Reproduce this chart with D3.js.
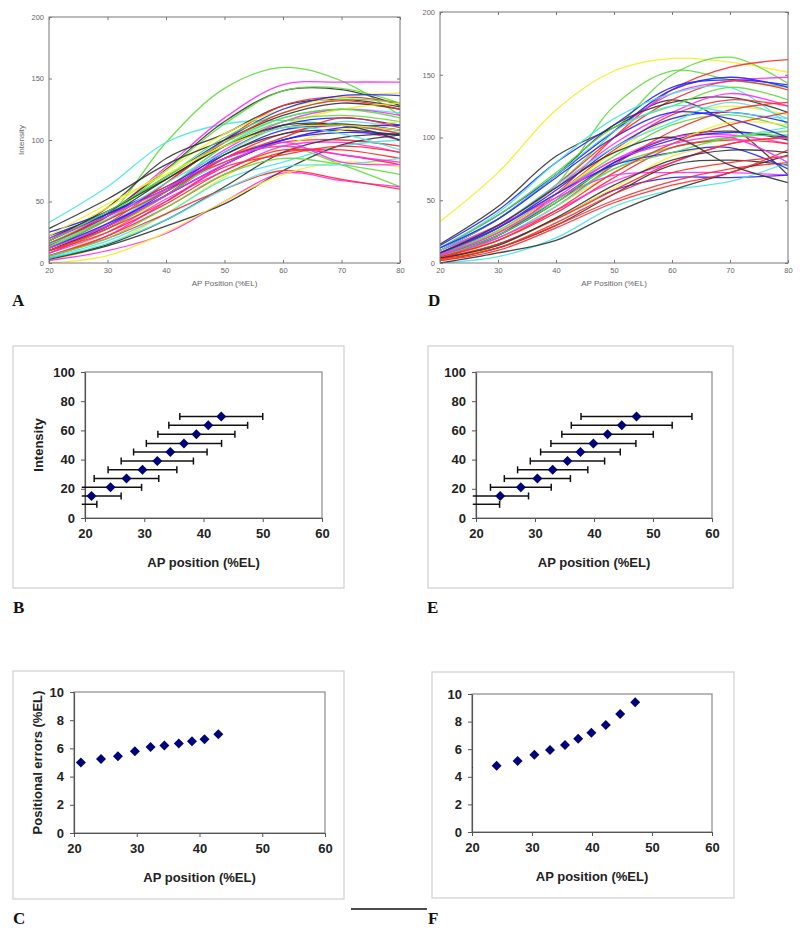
<!DOCTYPE html>
<html><head><meta charset="utf-8">
<script src="https://cdn.jsdelivr.net/npm/d3@7"></script>
<style>body{margin:0;background:#fff}svg{display:block}</style>
</head><body>
<svg id="fig" width="800" height="932"></svg>
<script>
// ---------- data ----------
const xGrid = [20, 30, 40, 50, 60, 70, 80];
const colorMap = {b:"#2222ff", g:"#5ddd3a", r:"#ff2a2a", c:"#4ae6e6", m:"#ff2aff", y:"#f2ee22", k:"#333333"};

const colorsA = ["g","c","m","k","g","k","r","y","b","k","g","r","c","m","y","b","k","g","r","c","m","b","k","r","g","y","m","b","r","c","k","m","k","r","y","g","c","r","m","b","r","k","g","y","c","m","r"];
const seriesA = [
 [12,38,98,142,159,148,120],[33,62,98,113,116,112,106],[15,40,78,118,145,147,147],[14,40,76,115,140,141,128],
 [13,38,75,113,140,142,130],[18,45,85,105,128,133,127],[10,32,65,100,128,135,130],[20,45,75,105,125,135,138],
 [25,42,70,100,125,136,136],[28,52,80,100,120,130,125],[16,40,70,102,122,133,130],[12,35,65,98,122,132,125],
 [8,30,60,95,118,125,122],[10,30,60,92,115,125,120],[5,25,55,88,112,125,130],[10,30,58,90,112,118,112],
 [15,38,68,95,112,113,108],[12,35,60,95,115,120,115],[8,28,55,85,105,112,105],[12,32,58,82,102,115,110],
 [5,22,50,80,100,108,100],[18,40,62,88,108,112,108],[10,30,55,88,105,108,104],[15,38,62,82,98,100,95],
 [10,28,55,85,95,80,62],[2,15,40,70,95,108,115],[8,25,52,75,95,98,90],[12,32,55,80,100,106,104],
 [6,22,45,72,90,92,85],[5,18,40,68,82,95,100],[4,15,35,62,90,102,105],[2,10,24,50,73,67,62],
 [3,14,30,48,75,96,104],[6,20,40,60,75,68,60],[0,6,25,50,72,82,78],[6,20,45,72,85,80,72],
 [4,16,35,60,78,80,85],[10,25,48,75,92,88,80],[12,30,55,80,98,82,80],[22,40,60,85,100,110,112],
 [16,35,58,85,102,118,110],[20,42,68,95,110,112,100],[18,42,70,98,118,125,118],[22,48,72,95,110,112,108],
 [15,36,65,90,110,105,92],[20,38,60,85,95,88,82],[10,28,50,78,88,95,90]
];

const colorsD = ["y","g","g","r","k","b","m","b","r","c","k","g","r","m","y","b","c","g","r","k","m","b","y","c","g","r","m","b","k","r","y","c","k","r","b","m","r","g","k","r","c","b","k","r","m"];
const seriesD = [
 [33,72,122,153,163,160,152],[10,30,62,105,150,164,143],[8,28,62,125,153,146,140],[5,22,55,100,138,156,162],
 [15,45,85,108,130,110,70],[14,42,80,110,140,146,142],[10,35,70,105,135,145,148],[12,38,70,105,138,148,140],
 [8,30,62,100,130,145,138],[12,40,80,115,135,140,110],[10,35,70,110,128,132,120],[12,38,72,108,125,140,130],
 [6,25,55,90,118,130,125],[8,30,60,95,120,135,125],[5,25,55,88,115,125,118],[6,28,58,92,115,120,112],
 [8,30,62,92,112,128,115],[7,26,55,85,110,118,108],[5,20,45,78,105,122,128],[6,22,48,80,100,105,98],
 [7,28,55,82,100,102,95],[5,22,50,80,98,104,100],[3,18,45,72,95,112,110],[4,20,45,75,92,100,108],
 [6,24,50,78,92,100,102],[4,18,40,68,92,98,95],[10,30,52,70,72,72,70],[3,15,35,58,68,68,70],
 [2,12,30,55,78,82,78],[3,12,30,50,65,75,80],[2,14,35,60,85,95,100],[0,5,20,45,58,65,80],
 [0,8,18,40,58,72,86],[2,10,28,48,62,72,90],[8,28,55,78,88,92,75],[5,20,42,65,80,95,100],
 [4,15,35,58,80,95,100],[5,22,48,75,88,100,105],[4,14,36,62,82,90,88],[3,12,32,55,72,80,85],
 [10,35,70,105,125,120,115],[12,35,68,100,120,115,100],[8,30,60,88,100,78,64],[5,18,42,72,95,110,120],
 [6,24,52,82,95,100,80]
];

// Panels B/C (first entry is the bar whose centre lies left of the axis)
const intensityLevels = [9.4, 15.1, 21.0, 27.0, 33.0, 39.0, 45.2, 51.1, 57.3, 63.5, 69.6];
const positionB = [17.0, 21.1, 24.3, 27.0, 29.7, 32.2, 34.4, 36.7, 38.8, 40.8, 43.0];
const errorB    = [5.0, 5.0, 5.25, 5.45, 5.8, 6.1, 6.2, 6.35, 6.5, 6.65, 7.0];
// Panels E/F
const positionE = [19.3, 24.1, 27.6, 30.4, 33.0, 35.5, 37.7, 39.9, 42.3, 44.7, 47.2];
const errorE    = [4.7, 4.8, 5.15, 5.6, 5.95, 6.3, 6.75, 7.2, 7.75, 8.55, 9.4];

const xTicksTop = [20, 30, 40, 50, 60, 70, 80];
const yTicksTop = [0, 50, 100, 150, 200];
const xTicksBottom = [20, 30, 40, 50, 60];
const yTicksB = [0, 20, 40, 60, 80, 100];
const yTicksC = [0, 2, 4, 6, 8, 10];

// ---------- drawing ----------
const svg = d3.select("#fig");
let clipId = 0;
function addClip(x, y, w, h) {
  const id = "clip" + (clipId++);
  svg.append("clipPath").attr("id", id).append("rect").attr("x", x).attr("y", y).attr("width", w).attr("height", h);
  return "url(#" + id + ")";
}

function curvePanel(p) {
  const x = d3.scaleLinear().domain([20, 80]).range([p.l, p.r]);
  const y = d3.scaleLinear().domain([0, 200]).range([p.b, p.t]);
  const g = svg.append("g");
  const clip = addClip(p.l, p.t, p.r - p.l, p.b - p.t);
  const line = d3.line().x((d, i) => x(xGrid[i])).y(d => y(d)).curve(d3.curveCatmullRom.alpha(0.5));
  g.append("g").attr("clip-path", clip).selectAll("path").data(p.series).join("path")
    .attr("d", line).attr("fill", "none").attr("stroke-width", 1.3).attr("stroke-opacity", 0.9)
    .attr("stroke", (d, i) => colorMap[p.colors[i]]).attr("stroke-linejoin", "round");
  g.append("rect").attr("x", p.l).attr("y", p.t).attr("width", p.r - p.l).attr("height", p.b - p.t)
    .attr("fill", "none").attr("stroke", "#777").attr("stroke-width", 1);
  const fs = "7.5px";
  const ax = [
    d3.axisBottom(x).tickValues(xTicksTop).tickSize(-3).tickSizeOuter(0).tickPadding(5),
    d3.axisTop(x).tickValues(xTicksTop).tickSize(-3).tickSizeOuter(0).tickFormat(""),
    d3.axisLeft(y).tickValues(yTicksTop).tickSize(-3).tickSizeOuter(0).tickPadding(5),
    d3.axisRight(y).tickValues(yTicksTop).tickSize(-3).tickSizeOuter(0).tickFormat("")
  ];
  const pos = [[0, p.b], [0, p.t], [p.l, 0], [p.r, 0]];
  ax.forEach((a, i) => {
    const ag = g.append("g").attr("transform", `translate(${pos[i][0]},${pos[i][1]})`).call(a);
    ag.select(".domain").remove();
    ag.selectAll("line").attr("stroke", "#777");
    ag.selectAll("text").attr("fill", "#666").style("font-family", "Arial, 'Liberation Sans', sans-serif").style("font-size", fs);
  });
  g.append("text").attr("x", (p.l + p.r) / 2).attr("y", p.b + 23).attr("text-anchor", "middle")
    .attr("fill", "#666").style("font-family", "Arial, 'Liberation Sans', sans-serif").style("font-size", "8px").text("AP Position (%EL)");
  if (p.ylabel) {
    g.append("text").attr("transform", `translate(${p.l - 25},${(p.t + p.b) / 2}) rotate(-90)`).attr("text-anchor", "middle")
      .attr("fill", "#666").style("font-family", "Arial, 'Liberation Sans', sans-serif").style("font-size", "8px").text(p.ylabel);
  }
}

curvePanel({l: 49, r: 400, t: 17, b: 263, series: seriesA, colors: colorsA, ylabel: "Intensity"});
curvePanel({l: 440, r: 788, t: 12, b: 263, series: seriesD, colors: colorsD});

const font = "Arial, 'Liberation Sans', sans-serif";
function excelPanel(p) {
  const g = svg.append("g");
  g.append("rect").attr("x", p.ox).attr("y", p.oy).attr("width", p.ow).attr("height", p.oh)
    .attr("fill", "#fff").attr("stroke", "#cfcfcf").attr("stroke-width", 1.2);
  const x = d3.scaleLinear().domain([20, 60]).range([p.l, p.r]);
  const y = d3.scaleLinear().domain(p.ydom).range([p.b, p.t]);
  g.append("rect").attr("x", p.l).attr("y", p.t).attr("width", p.r - p.l).attr("height", p.b - p.t)
    .attr("fill", "none").attr("stroke", "#8a8a8a").attr("stroke-width", 1.2);
  const xa = g.append("g").attr("transform", `translate(0,${p.b})`)
    .call(d3.axisBottom(x).tickValues(xTicksBottom).tickSize(4).tickSizeOuter(0).tickPadding(7));
  const ya = g.append("g").attr("transform", `translate(${p.l},0)`)
    .call(d3.axisLeft(y).tickValues(p.yticks).tickSize(4).tickSizeOuter(0).tickPadding(6));
  [xa, ya].forEach(a => {
    a.select(".domain").attr("stroke", "#555").attr("stroke-width", 1.2);
    a.selectAll("line").attr("stroke", "#555");
    a.selectAll("text").attr("fill", "#222").style("font-family", font).style("font-size", "13px").style("font-weight", "bold");
  });
  g.append("text").attr("x", (p.l + p.r) / 2).attr("y", p.b + 49).attr("text-anchor", "middle")
    .attr("fill", "#222").style("font-family", font).style("font-size", "13px").style("font-weight", "bold").text("AP position (%EL)");
  if (p.ylabel) {
    g.append("text").attr("transform", `translate(${p.ylx},${(p.t + p.b) / 2}) rotate(-90)`).attr("text-anchor", "middle")
      .attr("dy", "0.35em").attr("fill", "#222").style("font-family", font).style("font-size", "13px").style("font-weight", "bold").text(p.ylabel);
  }
  const clip = addClip(p.l, p.t, p.r - p.l, p.b - p.t);
  const diamond = "M0,-5L5,0L0,5L-5,0Z";
  if (p.err) {
    const eg = g.append("g");
    p.pos.forEach((c, i) => {
      const x0 = x(Math.max(c - p.err[i], 19.45)), x1 = x(c + p.err[i]), yy = y(p.yv[i]);
      eg.append("line").attr("x1", x0).attr("x2", x1).attr("y1", yy).attr("y2", yy).attr("stroke", "#111").attr("stroke-width", 1.5);
      if (c - p.err[i] >= 19.45) eg.append("line").attr("x1", x0).attr("x2", x0).attr("y1", yy - 3.5).attr("y2", yy + 3.5).attr("stroke", "#111").attr("stroke-width", 1.5);
      eg.append("line").attr("x1", x1).attr("x2", x1).attr("y1", yy - 3.5).attr("y2", yy + 3.5).attr("stroke", "#111").attr("stroke-width", 1.5);
    });
  }
  g.append("g").attr("clip-path", clip).selectAll("path").data(p.pos).join("path")
    .attr("transform", (d, i) => `translate(${x(d)},${y(p.yv[i])})`).attr("d", diamond).attr("fill", "#00007a");
}

excelPanel({ox: 13, oy: 346, ow: 331, oh: 242, l: 85, r: 322, t: 372, b: 518, ydom: [0, 100], yticks: yTicksB,
  pos: positionB, yv: intensityLevels, err: errorB, ylabel: "Intensity", ylx: 38});
excelPanel({ox: 428, oy: 346, ow: 305, oh: 242, l: 476, r: 712, t: 372, b: 518, ydom: [0, 100], yticks: yTicksB,
  pos: positionE, yv: intensityLevels, err: errorE});
excelPanel({ox: 13, oy: 671, ow: 331, oh: 228, l: 74, r: 325, t: 692, b: 833, ydom: [0, 10], yticks: yTicksC,
  pos: positionB, yv: errorB, ylabel: "Positional errors (%EL)", ylx: 37});
excelPanel({ox: 432, oy: 672, ow: 302, oh: 226, l: 472, r: 712, t: 694, b: 832, ydom: [0, 10], yticks: yTicksC,
  pos: positionE, yv: errorE});

// panel letters
const letters = [["A", 12, 306], ["D", 428, 306], ["B", 13, 613], ["E", 427, 613], ["C", 13, 924], ["F", 428, 924]];
svg.selectAll("text.letter").data(letters).join("text").attr("class", "letter")
  .attr("x", d => d[1]).attr("y", d => d[2]).text(d => d[0])
  .style("font-family", "'Liberation Serif', 'Times New Roman', serif").style("font-size", "17px").style("font-weight", "bold").attr("fill", "#111");
svg.append("line").attr("x1", 351).attr("x2", 427).attr("y1", 909).attr("y2", 909).attr("stroke", "#111").attr("stroke-width", 1.5);
</script>
</body></html>
